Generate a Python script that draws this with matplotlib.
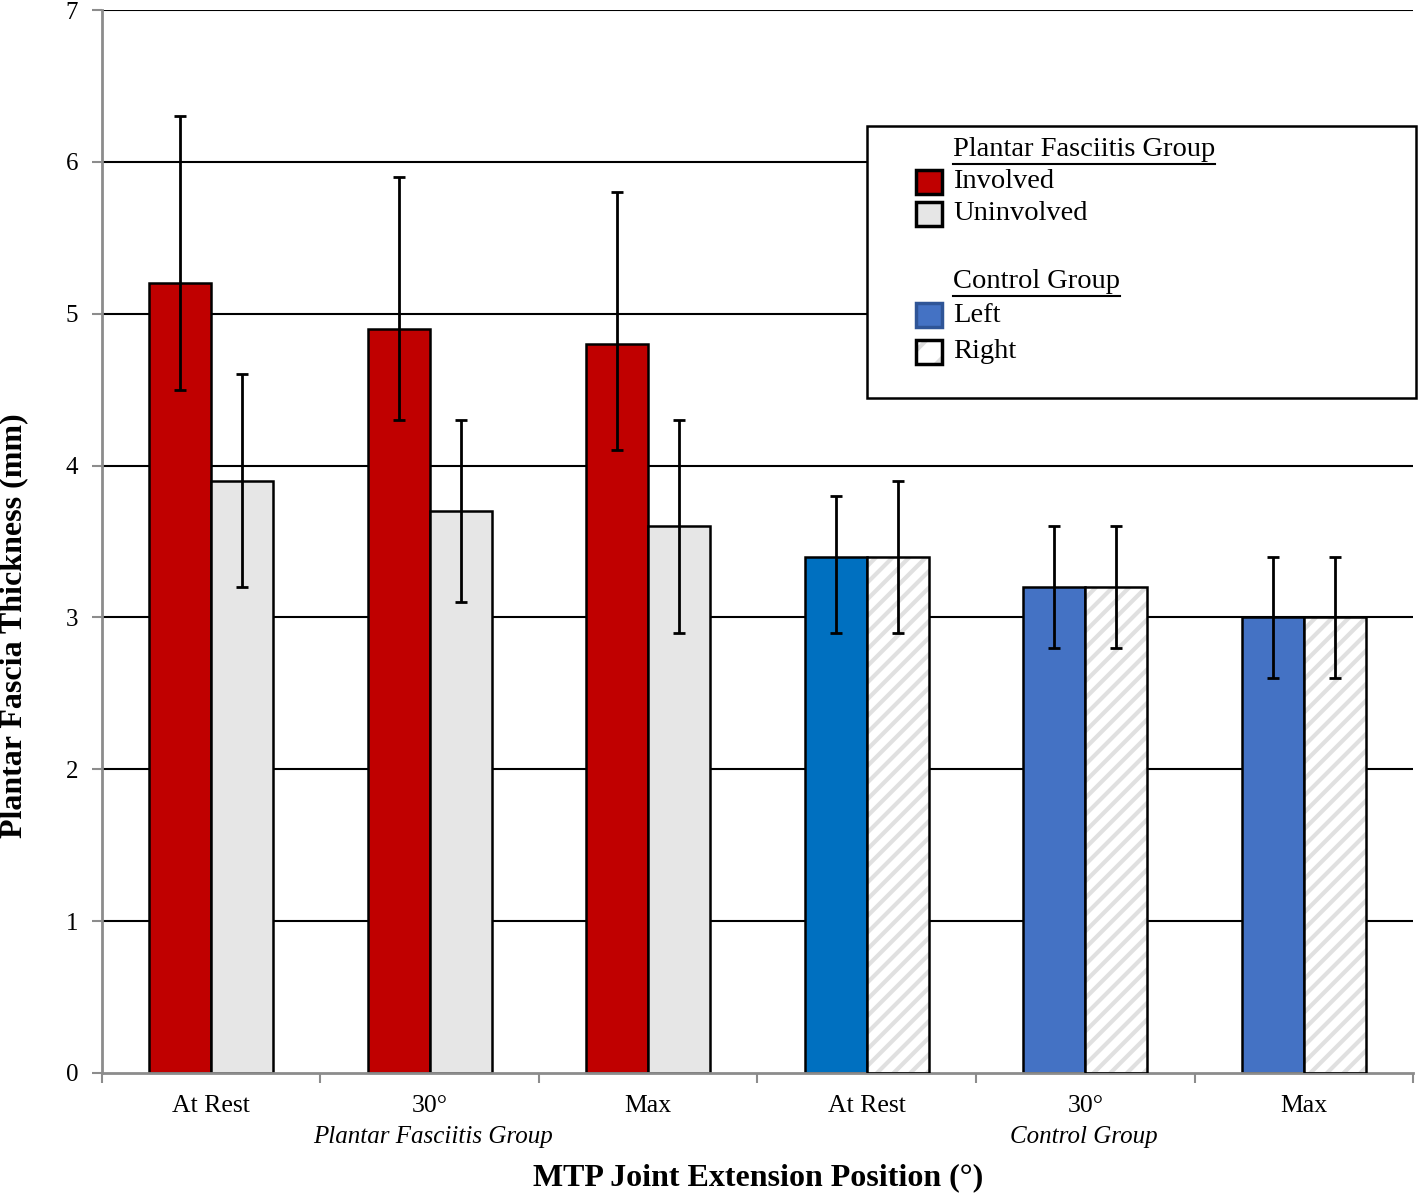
import matplotlib
matplotlib.use("Agg")
import matplotlib.pyplot as plt
from matplotlib.patches import Rectangle
import numpy as np

plt.rcParams['font.family'] = ['Liberation Serif', 'DejaVu Serif']

positions = ["At Rest", "30°", "Max", "At Rest", "30°", "Max"]
group_names = ["Plantar Fasciitis Group", "Control Group"]

# first series: Involved (PF) / Left (Control); second: Uninvolved (PF) / Right (Control)
first_vals = [5.2, 4.9, 4.8, 3.4, 3.2, 3.0]
first_lo = [0.7, 0.6, 0.7, 0.5, 0.4, 0.4]
first_hi = [1.1, 1.0, 1.0, 0.4, 0.4, 0.4]
second_vals = [3.9, 3.7, 3.6, 3.4, 3.2, 3.0]
second_lo = [0.7, 0.6, 0.7, 0.5, 0.4, 0.4]
second_hi = [0.7, 0.6, 0.7, 0.5, 0.4, 0.4]

first_colors = ["#C00000", "#C00000", "#C00000", "#0070C0", "#4472C4", "#4472C4"]
second_fill = ["#E6E6E6", "#E6E6E6", "#E6E6E6", "white", "white", "white"]
second_hatch = [None, None, None, "//", "//", "//"]

fig = plt.figure(figsize=(14.18, 11.95), dpi=100)
ax = fig.add_axes([0.0719, 0.1021, 0.9246, 0.8895])

x = np.arange(len(positions))
w = 0.284

ax.set_ylim(0, 7)
ax.set_xlim(-0.5, 5.5)
for yv in range(1, 8):
    ax.axhline(yv, color="black", lw=1.5, zorder=0)

ax.bar(x - w/2, first_vals, w, color=first_colors, edgecolor="black", lw=1.8, zorder=2)
plt.rcParams['hatch.linewidth'] = 3.0
for i in range(len(x)):
    if second_hatch[i]:
        ax.bar(x[i] + w/2, second_vals[i], w, color=second_fill[i], edgecolor="#E0E0E0",
               hatch=second_hatch[i], lw=0, zorder=2)
        ax.bar(x[i] + w/2, second_vals[i], w, fill=False, edgecolor="black", lw=1.8, zorder=3)
    else:
        ax.bar(x[i] + w/2, second_vals[i], w, color=second_fill[i], edgecolor="black", lw=1.8, zorder=2)

ax.errorbar(x - w/2, first_vals, yerr=[first_lo, first_hi], fmt="none", ecolor="black",
            elinewidth=2, capsize=4, capthick=2, zorder=4)
ax.errorbar(x + w/2, second_vals, yerr=[second_lo, second_hi], fmt="none", ecolor="black",
            elinewidth=2, capsize=4, capthick=2, zorder=4)

for s in ["top", "right"]:
    ax.spines[s].set_visible(False)
ax.spines["left"].set_color("#8C8C8C")
ax.spines["bottom"].set_color("#8C8C8C")
ax.spines["left"].set_linewidth(2)
ax.spines["bottom"].set_linewidth(2)

ax.set_yticks(range(0, 8))
ax.tick_params(axis="y", labelsize=18, length=7, width=1.5, color="#8C8C8C", pad=10)
ax.set_xticks(x)
ax.set_xticklabels(positions, fontsize=18.5)
ax.tick_params(axis="x", which="major", length=0, pad=16)
ax.set_xticks(np.arange(-0.5, 6, 1), minor=True)
ax.tick_params(axis="x", which="minor", length=7, width=1.5, color="#8C8C8C", direction="out")

H = 1195.0
W = 1418.0
def fx(px): return px / W
def fy(py): return 1 - py / H

fig.text(fx(433), fy(1137), group_names[0], ha="center", va="center", fontsize=18, style="italic")
fig.text(fx(1084), fy(1137), group_names[1], ha="center", va="center", fontsize=18, style="italic")

fig.text(fx(14), fy(626), "Plantar Fascia Thickness (mm)", ha="center", va="center",
         rotation=90, fontsize=23, fontweight="bold")
fig.text(fx(758), fy(1178), "MTP Joint Extension Position (°)", ha="center", va="center",
         fontsize=23, fontweight="bold")

# legend box
fig.patches.append(Rectangle((fx(867), fy(398)), fx(1416) - fx(867), fy(126) - fy(398),
                             transform=fig.transFigure, facecolor="white", edgecolor="black",
                             lw=1.8, zorder=5))
leg_items = [
    ("header", group_names[0], 150, None, None),
    ("item", "Involved", 182, "#C00000", None),
    ("item", "Uninvolved", 214, "#E6E6E6", None),
    ("header", group_names[1], 282, None, None),
    ("item", "Left", 315, "#4472C4", None),
    ("item", "Right", 352, "white", "/"),
]
for kind, label, py, col, hat in leg_items:
    t = fig.text(fx(953), fy(py), label, ha="left", va="center", fontsize=20.5, zorder=6)
    if kind == "header":
        fig.canvas.draw()
        bb = t.get_window_extent()
        fig.add_artist(plt.Line2D([bb.x0 / W, bb.x1 / W],
                                  [fy(py + 14), fy(py + 14)], transform=fig.transFigure,
                                  color="black", lw=1.5, zorder=6))
    else:
        x0, x1, y0, y1 = fx(916), fx(942), fy(py + 12), fy(py - 12)
        if hat:
            fig.patches.append(Rectangle((x0, y0), x1 - x0, y1 - y0, transform=fig.transFigure,
                                         facecolor=col, edgecolor="#DDDDDD", lw=0, hatch=hat,
                                         zorder=6))
            fig.patches.append(Rectangle((x0, y0), x1 - x0, y1 - y0, transform=fig.transFigure,
                                         fill=False, edgecolor="black", lw=2.5, zorder=7))
        else:
            ec = "#2F5597" if label == "Left" else "black"
            fig.patches.append(Rectangle((x0, y0), x1 - x0, y1 - y0, transform=fig.transFigure,
                                         facecolor=col, edgecolor=ec, lw=2.5, zorder=6))

fig.savefig("out.png", dpi=100)
